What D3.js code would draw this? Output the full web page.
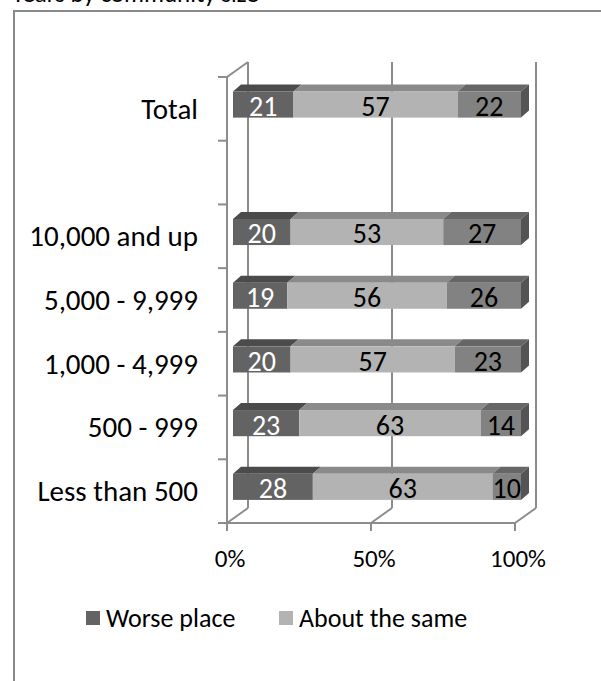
<!DOCTYPE html>
<html>
<head>
<meta charset="utf-8">
<script src="https://cdn.jsdelivr.net/npm/d3@7"></script>
<style>
  html, body { margin: 0; padding: 0; background: #fff; }
  svg { display: block; font-family: Carlito, Calibri, Lato, sans-serif; }
</style>
</head>
<body>
<svg id="chart" width="601" height="681"></svg>
<script>
// Community size groups, top to bottom ("" is an empty spacer row)
const categories = ["Total", "", "10,000 and up", "5,000 - 9,999", "1,000 - 4,999", "500 - 999", "Less than 500"];
const seriesNames = ["Worse place", "About the same", "Better place"];
const worsePlace   = [21, null, 20, 19, 20, 23, 28];
const aboutSame    = [57, null, 53, 56, 57, 63, 63];
const betterPlace  = [22, null, 27, 26, 23, 14, 10];
const legendNames  = ["Worse place", "About the same"];
const xTicks = [0, 0.5, 1];
const titleText = "Years by community size";

const frontFill = ["#636363", "#b3b3b3", "#828282"];
const topFill   = ["#4b4b4b", "#8a8a8a", "#666666"];
const sideFill  = ["#4a4a4a", "#8a8a8a", "#545454"];
const labelFill = ["#ffffff", "#000000", "#000000"];

const svg = d3.select("#chart");
const gridColor = "#8c8c8c";

// Plot box (front plane) and 3D depth of the walls
const x0 = 227, x1 = 515, yTop = 77, yBot = 523;
const depth = { dx: 21, dy: -15 };
// Bars sit partway into the depth, with their own thickness
const barFront = { dx: 6, dy: -4.3 };
const barDepth = { dx: 8, dy: -7 };

const x = d3.scaleLinear().domain([0, 1]).range([x0, x1]);
const y = d3.scaleBand().domain(d3.range(categories.length)).range([yTop, yBot]).padding(0);
const barH = y.bandwidth() * 0.41;

// Outer chart frame (cropped on the right and bottom)
svg.append("path")
  .attr("d", `M14,681 L14,11 L601,11`)
  .attr("fill", "none").attr("stroke", "#898989").attr("stroke-width", 2);

// Title, partly above the visible area
svg.append("text")
  .attr("x", 12).attr("y", 2)
  .attr("font-size", 25).attr("fill", "#000")
  .text(titleText);

const walls = svg.append("g").attr("fill", "none").attr("stroke", gridColor).attr("stroke-width", 2);

// Back wall gridlines
walls.selectAll("line.grid").data(xTicks).join("line")
  .attr("class", "grid")
  .attr("x1", d => x(d) + depth.dx).attr("x2", d => x(d) + depth.dx)
  .attr("y1", yTop + depth.dy).attr("y2", yBot + depth.dy);

// Floor gridlines running into depth
walls.selectAll("line.floor").data(xTicks).join("line")
  .attr("class", "floor")
  .attr("x1", d => x(d)).attr("y1", yBot)
  .attr("x2", d => x(d) + depth.dx).attr("y2", yBot + depth.dy);

// Floor front edge and value axis ticks
walls.append("line").attr("x1", x0).attr("x2", x1).attr("y1", yBot).attr("y2", yBot);
walls.selectAll("line.xtick").data(xTicks).join("line")
  .attr("class", "xtick")
  .attr("x1", d => x(d)).attr("x2", d => x(d))
  .attr("y1", yBot).attr("y2", yBot + 8);

// Side wall: front edge, top edge and category ticks
walls.append("line").attr("x1", x0).attr("x2", x0).attr("y1", yTop).attr("y2", yBot);
walls.append("line").attr("x1", x0).attr("y1", yTop).attr("x2", x0 + depth.dx).attr("y2", yTop + depth.dy);
const bounds = d3.range(categories.length + 1).map(i => yTop + i * y.bandwidth());
walls.selectAll("line.ytick").data(bounds).join("line")
  .attr("class", "ytick")
  .attr("x1", x0 - 9).attr("x2", x0)
  .attr("y1", d => d).attr("y2", d => d);

// Category labels
svg.append("g").selectAll("text").data(categories).join("text")
  .attr("x", 198)
  .attr("y", (d, i) => y(i) + y.bandwidth() / 2)
  .attr("text-anchor", "end")
  .attr("dominant-baseline", "central")
  .attr("font-size", 29)
  .attr("fill", "#000")
  .text(d => d);

// Value axis labels
svg.append("g").selectAll("text").data(xTicks).join("text")
  .attr("x", d => x(d) + 3)
  .attr("y", 558)
  .attr("text-anchor", "middle")
  .attr("dominant-baseline", "central")
  .attr("font-size", 25)
  .attr("fill", "#000")
  .text(d => d3.format(".0%")(d));

// Stacked 3D bars (each row normalised to 100%)
const rows = categories.map((c, i) => ({
  i, vals: [worsePlace[i], aboutSame[i], betterPlace[i]]
})).filter(r => r.vals[0] != null);

const bars = svg.append("g");
rows.forEach(r => {
  const total = d3.sum(r.vals);
  let acc = 0;
  const yc = y(r.i) + y.bandwidth() / 2 + barFront.dy;
  const fy0 = yc - barH / 2, fy1 = yc + barH / 2;
  const segs = r.vals.map((v, k) => {
    const a = acc / total; acc += v; const b = acc / total;
    return { k, v, xa: x(a) + barFront.dx, xb: x(b) + barFront.dx };
  });
  const g = bars.append("g");
  segs.forEach(s => {
    // top face
    g.append("path")
      .attr("d", `M${s.xa},${fy0} L${s.xa + barDepth.dx},${fy0 + barDepth.dy} L${s.xb + barDepth.dx},${fy0 + barDepth.dy} L${s.xb},${fy0} Z`)
      .attr("fill", topFill[s.k]);
    // front face
    g.append("rect")
      .attr("x", s.xa).attr("y", fy0)
      .attr("width", s.xb - s.xa).attr("height", barH)
      .attr("fill", frontFill[s.k]);
  });
  // right end face
  const last = segs[segs.length - 1];
  g.append("path")
    .attr("d", `M${last.xb},${fy0} L${last.xb + barDepth.dx},${fy0 + barDepth.dy} L${last.xb + barDepth.dx},${fy1 + barDepth.dy} L${last.xb},${fy1} Z`)
    .attr("fill", sideFill[last.k]);
  // value labels
  segs.forEach(s => {
    g.append("text")
      .attr("x", (s.xa + s.xb) / 2)
      .attr("y", yc + 2)
      .attr("text-anchor", "middle")
      .attr("dominant-baseline", "central")
      .attr("font-size", 28)
      .attr("fill", labelFill[s.k])
      .text(s.v);
  });
});

// Legend
const legend = svg.append("g").attr("transform", "translate(86,611)");
const legendX = [0, 193];
legendNames.forEach((name, k) => {
  const item = legend.append("g").attr("transform", `translate(${legendX[k]},0)`);
  item.append("rect").attr("width", 14).attr("height", 14).attr("fill", frontFill[k]);
  item.append("text")
    .attr("x", 20).attr("y", 7)
    .attr("dominant-baseline", "central")
    .attr("font-size", 26)
    .attr("fill", "#000")
    .text(name);
});
</script>
</body>
</html>
